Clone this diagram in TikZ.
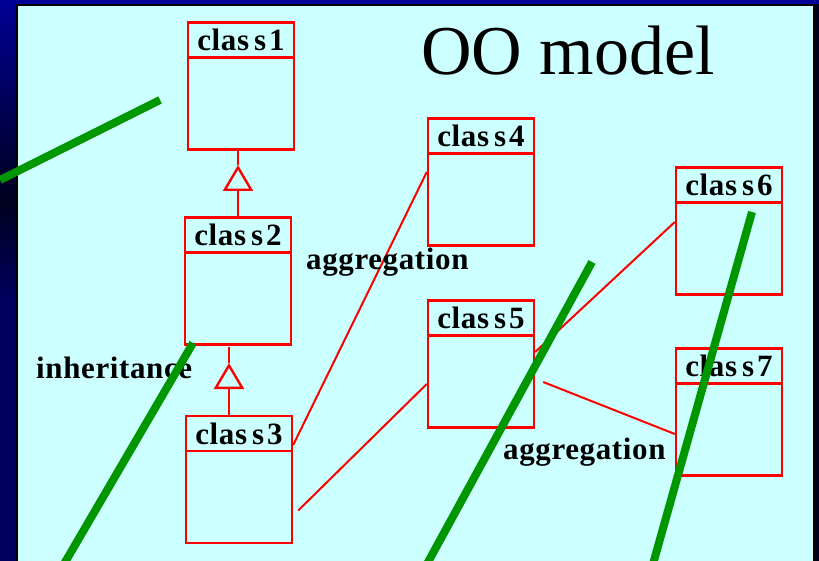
\documentclass[tikz,border=0pt]{standalone}
\usepackage{fontspec}
\setmainfont{Liberation Serif}
\newfontfamily\spacedfont[LetterSpace=2]{Liberation Serif}
\usetikzlibrary{arrows.meta}
\definecolor{panel}{RGB}{204,255,255}
\definecolor{umlred}{RGB}{255,0,0}
\definecolor{mark}{RGB}{0,150,0}
\definecolor{slideblue}{RGB}{0,0,150}
\definecolor{slidedark}{RGB}{0,0,30}
\definecolor{slidenavy}{RGB}{0,0,95}
\tikzset{
  classbox/.style={draw=umlred, line width=2.4pt, minimum width=106pt, minimum height=127pt, inner sep=0pt},
  classhead/.style={draw=umlred, line width=2.4pt, minimum width=106pt, minimum height=35pt, inner sep=0pt,
    font=\spacedfont\bfseries\fontsize{31}{33}\selectfont},
  assoc/.style={draw=umlred, line width=2pt},
  inherit/.style={draw=umlred, line width=2.4pt, -{Triangle[open, length=26pt, width=30pt]}},
  tagtext/.style={inner sep=0pt, font=\spacedfont\bfseries\fontsize{31}{33}\selectfont},
  strike/.style={draw=mark, line width=8pt}
}
\begin{document}
\begin{tikzpicture}[x=1pt, y=-1pt]
\useasboundingbox (0,0) rectangle (819,561);
% slide background
\fill[slidenavy] (0,0) rectangle (819,561);
\shade[top color=slideblue, bottom color=slidedark] (0,0) rectangle (17,200);
\shade[top color=slidedark, bottom color=slidenavy] (0,200) rectangle (17,300);
\fill[slideblue] (0,0) rectangle (819,4);
\fill[slidedark] (814,4) rectangle (819,561);
% panel
\filldraw[fill=panel, draw=black, line width=2.5pt] (17,5) rectangle (814,570);
% title
\node[anchor=base west, inner sep=0pt, font=\fontsize{70}{80}\selectfont] (title) at (421,75) {OO model};
% classes
\node[classbox] (c1) at (241,86) {};
\node[classhead, anchor=north] (c1h) at (c1.north) {clas\kern5pt s\kern3pt 1};
\node[classbox] (c2) at (238,281) {};
\node[classhead, anchor=north] (c2h) at (c2.north) {clas\kern5pt s\kern3pt 2};
\node[classbox] (c3) at (239,479.5) {};
\node[classhead, anchor=north] (c3h) at (c3.north) {clas\kern5pt s\kern3pt 3};
\node[classbox] (c4) at (481,182) {};
\node[classhead, anchor=north] (c4h) at (c4.north) {clas\kern5pt s\kern3pt 4};
\node[classbox] (c5) at (481,364) {};
\node[classhead, anchor=north] (c5h) at (c5.north) {clas\kern5pt s\kern3pt 5};
\node[classbox] (c6) at (729,231) {};
\node[classhead, anchor=north] (c6h) at (c6.north) {clas\kern5pt s\kern3pt 6};
\node[classbox] (c7) at (729,412) {};
\node[classhead, anchor=north] (c7h) at (c7.north) {clas\kern5pt s\kern3pt 7};
% inheritance
\coordinate (t1) at (238,165);
\path[inherit] (c2.north) -- (t1);
\draw[umlred, line width=2.4pt] (t1) -- (t1 |- c1.south);
\coordinate (t2) at (229,363);
\coordinate (s2) at (229,347);
\path[inherit] (t2 |- c3.north) -- (t2);
\draw[umlred, line width=2.4pt] (t2) -- (s2);
% aggregations
\path[assoc] ([yshift=34.5pt]c3.east) -- ([yshift=10pt]c4.west);
\path[assoc] ([xshift=5pt,yshift=-31pt]c3.east) -- ([yshift=-20pt]c5.west);
\path[assoc] ([yshift=12pt]c5.east) -- ([yshift=9pt]c6.west);
\path[assoc] ([xshift=8pt,yshift=-18pt]c5.east) -- ([yshift=-22pt]c7.west);
% labels
\node[tagtext, anchor=base west] (agg1) at (306,270) {aggregation};
\node[tagtext, anchor=base west] (agg2) at (503,459) {aggregation};
\node[tagtext, anchor=base west] (inh) at (36,378) {inheritance};
% green strokes
\draw[strike] (0,180) -- (160,100);
\draw[strike] (193,343) -- (64,564);
\draw[strike] (592,262) -- (427,564);
\draw[strike] (752,212) -- (653,564);
\end{tikzpicture}
\end{document}
